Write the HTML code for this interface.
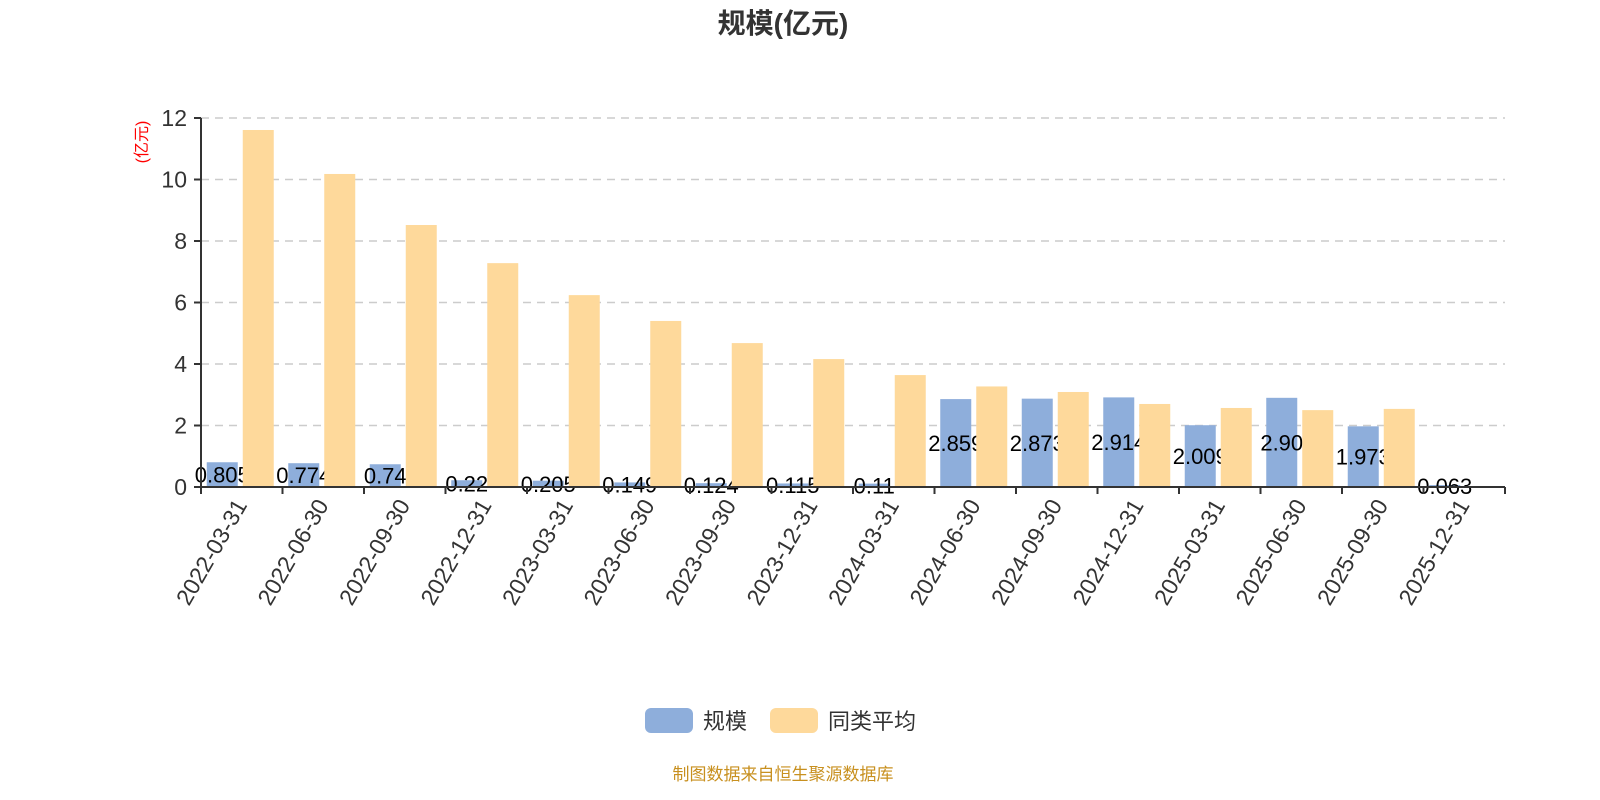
<!DOCTYPE html>
<html><head><meta charset="utf-8"><style>
body{margin:0;background:#fff;}
svg{display:block;font-family:"Liberation Sans","Noto Sans CJK SC",sans-serif;}
</style></head><body>
<svg id="chart" width="1600" height="800">
<text x="783" y="33" text-anchor="middle" font-size="28" font-weight="bold" fill="#333">规模(亿元)</text>
<text transform="translate(147,142) rotate(-90)" text-anchor="middle" font-size="16" fill="#f00">(亿元)</text>
<g id="grid"></g><g id="bars"></g><g id="axes"></g>
<g>
<rect x="645" y="708" width="48" height="25" rx="6" fill="#8eaedb"/>
<text x="703" y="729" font-size="22" fill="#333">规模</text>
<rect x="770" y="708" width="48" height="25" rx="6" fill="#fed99b"/>
<text x="828" y="729" font-size="22" fill="#333">同类平均</text>
</g>
<text x="783" y="780" text-anchor="middle" font-size="17" fill="#c8901f">制图数据来自恒生聚源数据库</text>
</svg>
<script>
const categories=["2022-03-31","2022-06-30","2022-09-30","2022-12-31","2023-03-31","2023-06-30","2023-09-30","2023-12-31","2024-03-31","2024-06-30","2024-09-30","2024-12-31","2025-03-31","2025-06-30","2025-09-30","2025-12-31"];
const sizeValues=[0.805,0.774,0.74,0.22,0.205,0.149,0.124,0.115,0.11,2.859,2.873,2.914,2.009,2.90,1.973,0.063];
const sizeLabels=["0.805","0.774","0.74","0.22","0.205","0.149","0.124","0.115","0.11","2.859","2.873","2.914","2.009","2.90","1.973","0.063"];
const avgValues=[11.61,10.18,8.52,7.28,6.24,5.40,4.68,4.16,3.64,3.27,3.09,2.70,2.57,2.50,2.54,null];
const yTicks=[0,2,4,6,8,10,12];
const NS="http://www.w3.org/2000/svg";
const x0=201,x1=1505,y0=487,y1=118,yMax=12;
const band=(x1-x0)/categories.length;
const yS=v=>y0-(v/yMax)*(y0-y1);
const xC=i=>x0+band*(i+0.5);
function mk(tag,attrs,parent){const e=document.createElementNS(NS,tag);for(const k in attrs)e.setAttribute(k,attrs[k]);parent.appendChild(e);return e;}
const grid=document.getElementById('grid'),bars=document.getElementById('bars'),axes=document.getElementById('axes');
yTicks.forEach(t=>{
 if(t>0){const l=mk('line',{x1:x0,x2:x1,y1:yS(t),y2:yS(t),stroke:'#ccc','stroke-dasharray':'8,6','stroke-width':1.5},grid);
 
 }
 const tk=mk('line',{x1:x0-7,x2:x0,y1:yS(t),y2:yS(t),stroke:'#333','stroke-width':2},axes);
 
 
 const tx=mk('text',{x:x0-14,y:yS(t)+8,'text-anchor':'end','font-size':23,fill:'#333'},axes);
 tx.textContent=t;
 
 
});
const ya=mk('line',{x1:x0,x2:x0,y1:y1,y2:y0,stroke:'#333','stroke-width':2},axes);


const xa=mk('line',{x1:x0,x2:x1,y1:y0,y2:y0,stroke:'#333','stroke-width':2},axes);


for(let i=0;i<=categories.length;i++){
 const tk=mk('line',{x1:x0+band*i,x2:x0+band*i,y1:y0,y2:y0+7,stroke:'#333','stroke-width':2},axes);
 
 
}
categories.forEach((c,i)=>{
 const cx=xC(i);
 const b=mk('rect',{x:cx-35,y:yS(sizeValues[i]),width:31,height:y0-yS(sizeValues[i]),fill:'#8eaedb'},bars);
 
 
 const lb=mk('text',{x:cx-19.5,y:(yS(sizeValues[i])+y0)/2+8,'text-anchor':'middle','font-size':22,fill:'#000'},bars);
 lb.textContent=sizeLabels[i];
 
 
 const tx=mk('text',{transform:`translate(${cx+6},${y0+18}) rotate(-60)`,'text-anchor':'end','font-size':23,fill:'#333'},axes);
 tx.textContent=c;
 
 
});
categories.forEach((c,i)=>{
 if(avgValues[i]==null)return;
 const cx=xC(i);
 const b=mk('rect',{x:cx+1,y:yS(avgValues[i]),width:31,height:y0-yS(avgValues[i]),fill:'#fed99b'},bars);
 
 
});
</script>
</body></html>
